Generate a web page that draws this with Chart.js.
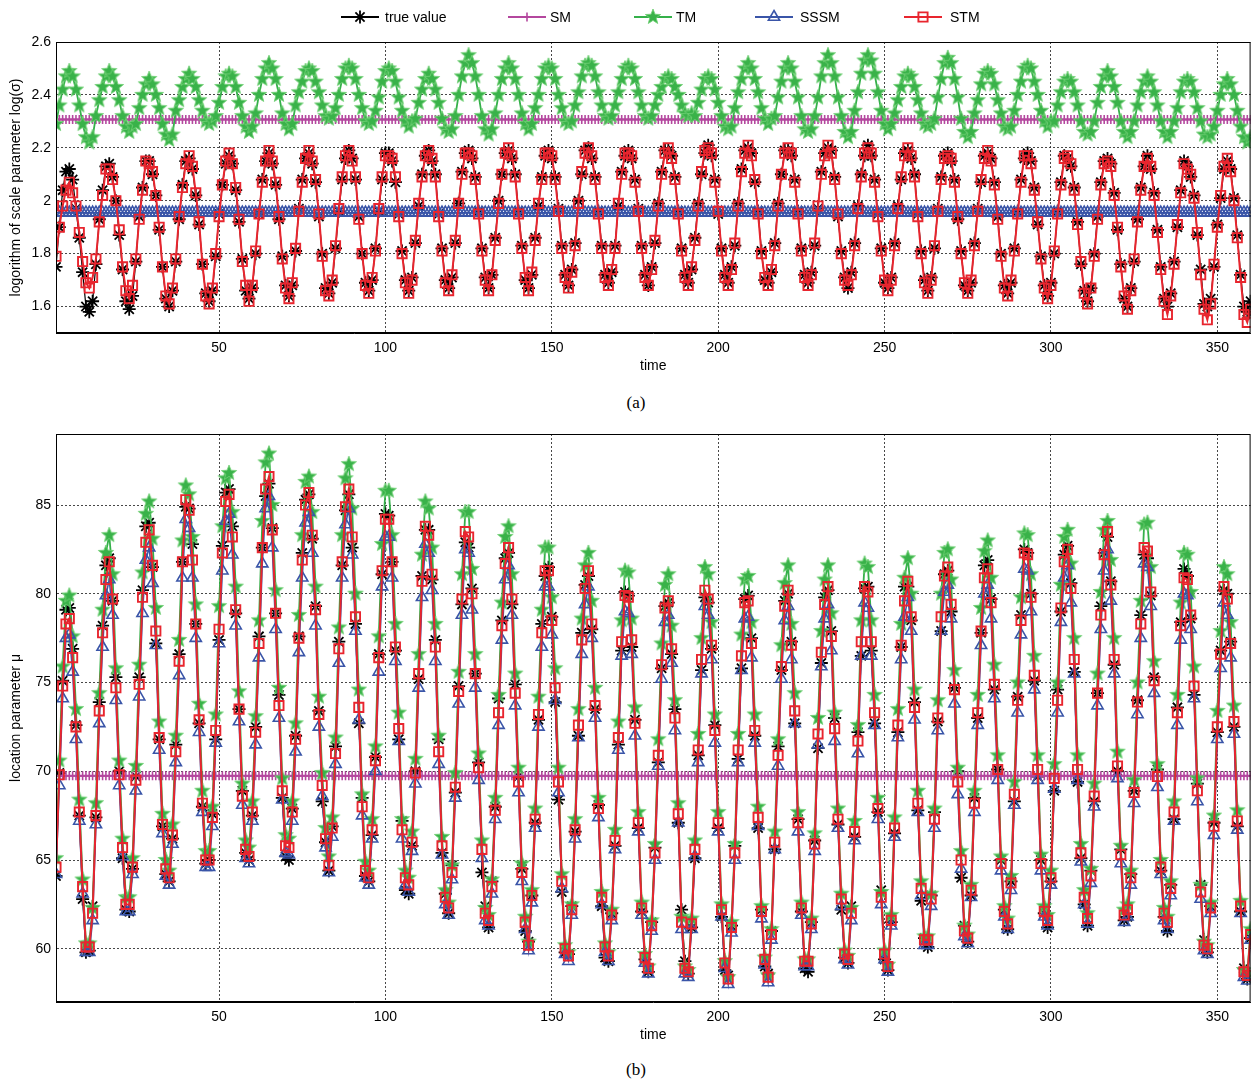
<!DOCTYPE html>
<html>
<head>
<meta charset="utf-8">
<script src="https://cdn.jsdelivr.net/npm/chart.js@4.4.1/dist/chart.umd.min.js"></script>
<style>
  body { margin: 0; background: #fff; width: 1259px; height: 1083px; position: relative; overflow: hidden; }
  canvas { position: absolute; left: 0; }
  #chartA { top: 0; }
  #chartB { top: 388px; }
  .cap { position: absolute; transform: translateX(-50%); font-family: "Liberation Serif", "Times New Roman", serif; font-size: 17px; color: #000; }
</style>
</head>
<body>
<canvas id="chartA" width="1259" height="385"></canvas>
<div class="cap" style="left:636px;top:393px">(a)</div>
<canvas id="chartB" width="1259" height="666"></canvas>
<div class="cap" style="left:636px;top:1060px">(b)</div>
<script>
// x axis: months 1..360
var time = Array.from({length: 360}, function(_, i) { return i + 1; });

var seriesNames = ['true value', 'SM', 'TM', 'SSSM', 'STM'];

// ---- (a) logarithm of scale parameter ----
var aTicksY = [1.6, 1.8, 2, 2.2, 2.4, 2.6];
var aSM = 2.307;     // flat line
var aSSSM = 1.955;   // flat line
var aTrue = [
  1.75,1.90,2.04,2.11,2.12,2.08,1.97,1.86,1.73,1.60,1.58,1.62,
  1.76,1.93,2.04,2.13,2.14,2.09,2.00,1.87,1.74,1.62,1.59,1.64,
  1.77,1.94,2.05,2.15,2.15,2.10,2.02,1.89,1.75,1.63,1.60,1.66,
  1.77,1.93,2.06,2.15,2.16,2.12,2.02,1.91,1.76,1.65,1.62,1.66,
  1.79,1.95,2.06,2.14,2.17,2.14,2.04,1.92,1.78,1.66,1.63,1.67,
  1.80,1.95,2.08,2.15,2.18,2.14,2.06,1.93,1.79,1.68,1.64,1.68,
  1.81,1.97,2.08,2.16,2.18,2.14,2.07,1.94,1.80,1.67,1.65,1.69,
  1.82,1.96,2.08,2.16,2.19,2.16,2.08,1.94,1.80,1.69,1.66,1.70,
  1.82,1.96,2.08,2.18,2.18,2.15,2.07,1.95,1.81,1.70,1.66,1.71,
  1.84,1.98,2.10,2.17,2.19,2.15,2.10,1.95,1.82,1.70,1.67,1.71,
  1.84,1.99,2.11,2.18,2.19,2.16,2.09,1.96,1.82,1.71,1.67,1.72,
  1.86,2.00,2.10,2.18,2.19,2.16,2.10,1.96,1.83,1.70,1.67,1.72,
  1.86,1.98,2.09,2.17,2.19,2.16,2.09,1.97,1.83,1.72,1.68,1.74,
  1.84,2.00,2.10,2.19,2.20,2.16,2.09,1.96,1.83,1.72,1.69,1.73,
  1.83,1.98,2.11,2.17,2.19,2.16,2.08,1.97,1.83,1.72,1.68,1.75,
  1.84,1.99,2.11,2.19,2.19,2.17,2.09,1.96,1.82,1.72,1.69,1.74,
  1.86,1.99,2.10,2.18,2.21,2.17,2.08,1.95,1.82,1.72,1.69,1.75,
  1.83,1.99,2.12,2.19,2.20,2.18,2.07,1.96,1.81,1.70,1.69,1.73,
  1.84,1.99,2.10,2.19,2.19,2.17,2.08,1.96,1.82,1.72,1.69,1.73,
  1.83,1.97,2.11,2.18,2.20,2.19,2.09,1.94,1.81,1.71,1.67,1.73,
  1.84,1.98,2.10,2.17,2.21,2.17,2.08,1.95,1.82,1.69,1.67,1.71,
  1.84,1.98,2.08,2.18,2.19,2.16,2.10,1.95,1.81,1.70,1.66,1.71,
  1.82,1.97,2.09,2.17,2.18,2.15,2.08,1.93,1.81,1.68,1.66,1.69,
  1.84,1.97,2.07,2.17,2.18,2.16,2.07,1.94,1.80,1.68,1.65,1.69,
  1.82,1.96,2.08,2.16,2.18,2.15,2.05,1.91,1.79,1.68,1.64,1.69,
  1.80,1.96,2.07,2.17,2.16,2.13,2.05,1.92,1.76,1.66,1.62,1.67,
  1.80,1.94,2.07,2.15,2.16,2.14,2.03,1.89,1.76,1.63,1.60,1.67,
  1.77,1.93,2.05,2.13,2.17,2.12,2.03,1.89,1.75,1.63,1.60,1.65,
  1.77,1.90,2.04,2.15,2.13,2.09,2.02,1.87,1.74,1.61,1.60,1.63,
  1.75,1.91,2.01,2.12,2.15,2.12,2.01,1.87,1.72,1.60,1.58,1.62
];
var aTM = [
  2.29,2.36,2.42,2.47,2.49,2.47,2.42,2.36,2.29,2.24,2.22,2.24,
  2.32,2.38,2.43,2.47,2.49,2.47,2.43,2.38,2.32,2.28,2.26,2.28,
  2.29,2.35,2.40,2.44,2.46,2.44,2.40,2.35,2.29,2.25,2.23,2.25,
  2.34,2.38,2.43,2.46,2.48,2.46,2.43,2.38,2.34,2.30,2.29,2.30,
  2.32,2.37,2.43,2.47,2.48,2.47,2.43,2.37,2.32,2.28,2.26,2.28,
  2.33,2.40,2.46,2.50,2.52,2.50,2.46,2.40,2.33,2.29,2.27,2.29,
  2.36,2.41,2.45,2.49,2.50,2.49,2.45,2.41,2.36,2.32,2.31,2.32,
  2.35,2.40,2.46,2.50,2.51,2.50,2.46,2.40,2.35,2.30,2.29,2.30,
  2.34,2.39,2.45,2.49,2.50,2.49,2.45,2.39,2.34,2.30,2.28,2.30,
  2.31,2.37,2.42,2.46,2.48,2.46,2.42,2.37,2.31,2.27,2.26,2.27,
  2.32,2.40,2.47,2.52,2.55,2.52,2.47,2.40,2.32,2.27,2.25,2.27,
  2.33,2.40,2.46,2.50,2.52,2.50,2.46,2.40,2.33,2.29,2.27,2.29,
  2.35,2.40,2.46,2.50,2.51,2.50,2.46,2.40,2.35,2.30,2.29,2.30,
  2.36,2.41,2.47,2.51,2.52,2.51,2.47,2.41,2.36,2.32,2.31,2.32,
  2.36,2.41,2.46,2.50,2.51,2.50,2.46,2.41,2.36,2.32,2.31,2.32,
  2.36,2.40,2.43,2.46,2.47,2.46,2.43,2.40,2.36,2.33,2.32,2.33,
  2.32,2.37,2.42,2.46,2.47,2.46,2.42,2.37,2.32,2.28,2.27,2.28,
  2.35,2.41,2.46,2.50,2.52,2.50,2.46,2.41,2.35,2.31,2.29,2.31,
  2.32,2.39,2.45,2.50,2.52,2.50,2.45,2.39,2.32,2.27,2.26,2.27,
  2.32,2.39,2.47,2.52,2.55,2.52,2.47,2.39,2.32,2.26,2.24,2.26,
  2.34,2.41,2.48,2.53,2.55,2.53,2.48,2.41,2.34,2.29,2.27,2.29,
  2.33,2.38,2.43,2.47,2.48,2.47,2.43,2.38,2.33,2.29,2.28,2.29,
  2.31,2.39,2.46,2.52,2.54,2.52,2.46,2.39,2.31,2.26,2.24,2.26,
  2.33,2.38,2.44,2.48,2.49,2.48,2.44,2.38,2.33,2.28,2.27,2.28,
  2.34,2.40,2.45,2.50,2.51,2.50,2.45,2.40,2.34,2.30,2.28,2.30,
  2.30,2.36,2.41,2.45,2.46,2.45,2.41,2.36,2.30,2.26,2.25,2.26,
  2.30,2.37,2.43,2.47,2.49,2.47,2.43,2.37,2.30,2.26,2.24,2.26,
  2.30,2.36,2.41,2.45,2.47,2.45,2.41,2.36,2.30,2.26,2.24,2.26,
  2.30,2.35,2.41,2.45,2.46,2.45,2.41,2.35,2.30,2.25,2.24,2.25,
  2.28,2.34,2.40,2.44,2.46,2.44,2.40,2.34,2.28,2.24,2.22,2.24
];
var aSTM = [
  1.79,1.90,1.98,2.04,2.07,2.03,1.98,1.88,1.77,1.69,1.67,1.71,
  1.78,1.92,2.02,2.12,2.12,2.08,2.00,1.89,1.75,1.66,1.63,1.68,
  1.78,1.93,2.04,2.15,2.14,2.11,2.02,1.90,1.75,1.64,1.61,1.67,
  1.78,1.94,2.05,2.14,2.17,2.13,2.03,1.92,1.76,1.64,1.61,1.67,
  1.80,1.94,2.06,2.15,2.18,2.14,2.05,1.93,1.77,1.68,1.62,1.68,
  1.81,1.95,2.07,2.15,2.19,2.15,2.07,1.94,1.78,1.67,1.63,1.69,
  1.82,1.96,2.07,2.16,2.19,2.15,2.08,1.95,1.79,1.66,1.64,1.70,
  1.83,1.97,2.09,2.17,2.19,2.15,2.09,1.93,1.80,1.68,1.65,1.71,
  1.81,1.97,2.09,2.17,2.17,2.16,2.09,1.94,1.80,1.69,1.65,1.70,
  1.85,1.99,2.09,2.17,2.19,2.16,2.09,1.94,1.81,1.69,1.66,1.72,
  1.85,1.99,2.10,2.18,2.18,2.17,2.08,1.95,1.81,1.70,1.66,1.72,
  1.85,1.99,2.10,2.18,2.20,2.17,2.09,1.95,1.82,1.71,1.66,1.73,
  1.85,1.99,2.08,2.18,2.18,2.17,2.08,1.96,1.82,1.71,1.67,1.73,
  1.83,1.99,2.11,2.18,2.20,2.17,2.08,1.95,1.82,1.71,1.68,1.74,
  1.82,1.99,2.10,2.18,2.18,2.17,2.07,1.96,1.82,1.71,1.68,1.74,
  1.85,1.98,2.10,2.18,2.20,2.16,2.08,1.95,1.81,1.71,1.68,1.75,
  1.85,1.98,2.11,2.19,2.20,2.18,2.07,1.96,1.81,1.71,1.68,1.74,
  1.84,1.98,2.11,2.18,2.21,2.17,2.08,1.95,1.80,1.71,1.68,1.74,
  1.83,1.98,2.10,2.18,2.20,2.18,2.07,1.95,1.81,1.71,1.68,1.72,
  1.84,1.98,2.10,2.17,2.21,2.18,2.08,1.95,1.80,1.70,1.68,1.72,
  1.83,1.97,2.09,2.18,2.20,2.18,2.07,1.94,1.81,1.70,1.66,1.70,
  1.83,1.97,2.09,2.17,2.20,2.17,2.09,1.94,1.80,1.69,1.65,1.70,
  1.83,1.96,2.08,2.16,2.17,2.16,2.07,1.94,1.80,1.69,1.65,1.70,
  1.83,1.96,2.08,2.16,2.19,2.15,2.06,1.93,1.79,1.67,1.64,1.70,
  1.81,1.95,2.07,2.17,2.17,2.14,2.04,1.92,1.78,1.67,1.63,1.68,
  1.81,1.95,2.06,2.16,2.17,2.14,2.04,1.91,1.77,1.65,1.61,1.67,
  1.79,1.93,2.06,2.14,2.15,2.13,2.02,1.90,1.75,1.64,1.59,1.66,
  1.78,1.92,2.04,2.13,2.16,2.13,2.02,1.88,1.74,1.62,1.57,1.64,
  1.76,1.91,2.03,2.14,2.12,2.10,2.01,1.88,1.72,1.59,1.55,1.61,
  1.76,1.90,2.02,2.13,2.16,2.11,2.00,1.86,1.71,1.57,1.54,1.59
];

// ---- (b) location parameter ----
var bTicksY = [60, 65, 70, 75, 80, 85];
var bSM = 69.75;     // flat line
var bTrue = [
  64.1,69.9,75.1,79.1,79.2,76.9,72.6,67.5,62.8,59.8,59.9,62.4,
  67.4,73.9,78.2,81.6,82.0,79.6,75.3,70.0,65.1,62.2,62.1,64.5,
  69.7,75.3,80.2,83.8,84.0,81.5,77.2,71.8,66.9,64.2,63.8,66.2,
  71.5,76.6,81.8,84.9,84.8,82.8,78.3,72.7,68.0,64.8,65.0,67.6,
  71.8,77.4,82.7,85.7,85.9,83.8,78.9,73.5,68.9,65.4,65.0,67.5,
  72.5,77.6,82.6,85.5,86.2,83.7,78.9,74.3,68.5,65.2,65.0,67.9,
  72.0,77.6,82.3,85.3,85.6,83.1,79.3,73.4,68.3,66.0,64.4,66.9,
  71.4,77.3,81.6,84.7,85.6,82.6,78.3,72.7,68.5,64.1,63.8,66.4,
  70.8,76.6,81.1,84.5,84.4,81.8,76.8,71.8,67.2,63.3,63.1,65.8,
  70.0,75.2,81.0,83.6,83.6,80.8,77.4,71.8,65.4,63.1,62.0,64.7,
  68.8,74.8,79.4,82.9,82.6,80.3,75.5,70.5,64.3,62.4,61.2,63.8,
  68.0,74.1,78.5,82.0,82.3,79.4,74.9,69.7,64.5,61.0,60.4,63.0,
  67.1,72.9,78.3,81.0,81.5,78.7,73.9,68.4,63.2,59.8,59.7,62.4,
  66.6,72.0,77.8,80.5,81.0,78.0,73.5,68.1,62.4,59.5,59.3,62.0,
  65.8,71.5,76.8,80.1,79.9,77.0,72.9,66.8,62.1,59.4,58.7,61.5,
  65.7,70.5,75.8,79.3,79.5,76.6,73.5,67.1,62.2,59.3,58.6,61.2,
  65.1,70.9,75.7,79.8,79.5,76.9,72.6,66.8,61.8,58.8,58.5,61.3,
  65.8,70.7,75.8,79.7,79.9,77.5,72.0,66.8,62.2,59.0,58.6,61.0,
  65.6,71.4,75.7,79.6,80.0,77.3,72.7,67.3,62.1,58.9,58.7,61.5,
  66.1,71.3,76.1,79.8,80.2,77.9,73.0,67.0,62.2,59.5,59.2,62.4,
  66.3,72.2,76.5,80.3,80.4,76.8,72.7,67.7,63.3,59.4,58.8,61.5,
  66.5,72.2,77.0,80.4,80.4,78.5,73.9,67.8,62.7,60.6,60.1,63.0,
  67.7,72.8,77.9,81.1,81.3,79.0,74.7,70.0,64.0,61.3,60.4,63.0,
  68.5,73.0,77.8,81.6,81.9,79.7,74.6,70.1,65.0,62.2,61.1,63.8,
  68.3,74.2,78.8,82.5,82.3,80.0,75.1,69.7,65.0,62.0,61.2,63.8,
  68.9,74.6,79.0,82.2,82.7,80.6,75.6,69.4,65.1,62.5,61.3,64.4,
  68.3,74.4,79.3,82.3,83.2,80.7,76.0,70.0,65.6,61.6,61.8,64.2,
  68.9,74.0,78.8,82.2,82.0,79.9,75.3,70.1,64.4,61.8,61.0,63.6,
  67.3,73.6,78.4,81.4,81.0,78.6,74.3,69.3,63.6,60.5,59.8,62.4,
  67.1,72.2,76.8,80.2,80.0,77.3,72.5,66.9,62.1,58.9,58.3,60.6
];
var bTM = [
  65.1,70.6,75.9,79.6,79.9,77.6,73.5,68.4,63.9,60.3,60.3,62.3,
  68.2,74.4,79.1,82.3,83.3,81.1,75.8,70.6,66.2,62.9,62.9,65.1,
  70.3,76.0,81.2,84.5,85.2,83.1,79.2,72.8,67.6,65.0,64.4,67.0,
  72.0,77.4,83.0,86.1,85.6,83.2,79.4,73.8,68.9,65.5,65.5,68.0,
  73.2,79.3,83.8,86.5,86.8,84.6,80.4,74.5,69.3,66.1,65.7,68.3,
  73.1,78.5,84.1,87.4,87.9,85.0,80.2,74.7,69.6,66.4,66.2,68.3,
  72.7,78.8,83.3,86.3,86.6,84.6,80.4,74.2,69.9,66.8,65.2,67.4,
  71.9,78.1,83.3,86.5,87.3,84.8,80.0,74.6,68.7,64.9,64.4,67.3,
  71.4,77.6,82.8,85.8,85.8,83.3,78.3,73.3,67.3,64.4,64.0,66.6,
  70.7,76.6,82.2,85.2,84.8,82.6,78.3,72.0,66.3,63.3,62.6,64.7,
  69.9,75.6,81.1,84.6,84.6,81.4,76.6,71.0,66.1,62.3,61.9,63.9,
  68.5,74.3,79.5,83.2,83.8,81.1,75.5,70.2,64.8,61.8,60.4,63.3,
  67.9,74.2,79.1,82.6,82.6,79.8,75.8,70.2,64.2,60.2,59.8,62.5,
  67.3,73.5,78.6,81.6,82.3,79.6,74.7,68.5,63.2,60.3,59.8,62.2,
  66.7,72.8,78.5,81.3,81.2,78.6,73.6,67.7,62.6,59.7,59.0,61.6,
  65.9,71.8,77.2,80.5,81.1,78.2,74.0,68.2,61.8,59.0,58.8,61.7,
  66.1,72.1,77.5,81.5,81.1,78.4,73.2,67.7,62.5,59.3,58.4,61.5,
  65.9,72.1,77.7,80.8,81.0,78.4,73.2,68.0,62.4,59.5,58.5,61.1,
  66.6,71.8,77.1,80.6,81.6,78.3,74.4,67.7,62.6,59.4,59.4,61.7,
  66.5,73.0,77.9,80.8,81.6,78.9,73.3,67.9,63.1,59.9,59.6,62.3,
  67.2,72.6,78.5,81.7,81.5,78.5,74.3,68.5,63.2,59.9,59.1,61.9,
  67.4,73.5,78.3,80.9,82.0,80.0,74.6,68.9,63.8,60.7,60.7,63.1,
  67.9,74.0,80.0,82.3,82.5,80.8,75.7,70.2,65.5,61.3,60.8,63.6,
  68.9,74.3,79.2,82.4,83.0,80.9,76.0,70.9,65.2,62.4,61.7,64.1,
  69.4,75.0,79.8,83.4,83.3,81.1,76.5,70.9,65.3,62.4,61.9,64.4,
  70.4,75.0,80.5,83.2,83.6,81.7,77.5,70.9,65.9,63.3,62.0,64.5,
  69.3,75.5,80.1,83.6,84.1,81.9,77.5,71.1,65.8,62.2,62.5,64.4,
  69.5,75.0,79.6,83.9,84.0,81.5,76.2,70.4,65.0,62.3,61.8,63.8,
  68.3,74.3,79.5,82.3,82.2,80.1,75.9,69.6,63.6,60.4,60.2,62.6,
  67.5,73.4,77.9,81.5,81.1,78.4,73.7,67.8,62.7,58.8,58.6,61.1
];
var bSSSM = [
  64.2,69.2,74.1,77.5,77.7,75.6,71.8,67.2,63.1,59.8,59.8,61.6,
  67.0,72.7,77.0,79.9,80.8,78.8,74.0,69.2,65.2,62.1,62.1,64.2,
  68.9,74.2,78.9,81.9,82.6,80.6,77.1,71.2,66.5,64.1,63.6,65.9,
  70.5,75.4,80.9,84.2,83.7,80.9,77.5,72.2,67.7,64.6,64.6,66.9,
  71.6,77.2,81.3,84.1,84.5,82.2,78.2,72.8,68.1,65.1,64.8,67.2,
  71.5,76.4,81.7,84.8,85.5,82.6,78.0,73.0,68.4,65.4,65.3,67.2,
  71.1,76.7,80.9,84.0,84.6,82.3,78.2,72.5,68.6,65.7,64.3,66.3,
  70.4,76.1,80.9,83.9,84.8,82.2,77.9,72.9,67.5,64.0,63.6,66.2,
  70.0,75.6,80.4,83.2,83.2,80.9,76.2,71.7,66.2,63.6,63.2,65.5,
  69.3,74.7,79.8,82.8,82.3,80.2,76.2,70.4,65.3,62.5,61.9,63.9,
  68.5,73.8,78.8,82.5,82.3,79.1,74.7,69.5,65.1,61.6,61.3,63.1,
  67.3,72.6,77.4,80.8,81.6,78.8,73.7,68.8,63.8,61.1,59.9,62.6,
  66.8,72.5,77.0,80.4,80.4,77.7,74.0,68.8,63.4,59.7,59.3,61.9,
  66.2,71.9,76.6,79.4,80.4,77.5,73.0,67.4,62.5,59.8,59.3,61.6,
  65.6,71.2,76.5,79.0,78.9,76.6,72.0,66.6,61.9,59.2,58.6,61.0,
  65.0,70.3,75.2,78.4,78.8,76.1,72.3,67.1,61.1,58.6,58.4,61.1,
  65.2,70.5,75.5,79.3,78.8,76.3,71.6,66.6,61.8,58.9,58.0,60.9,
  65.0,70.5,75.7,78.6,78.7,76.4,71.6,66.9,61.7,59.1,58.1,60.5,
  65.6,70.3,75.2,78.5,79.3,76.3,72.7,66.6,61.9,59.0,59.0,61.1,
  65.5,71.5,75.9,78.6,79.4,76.8,71.7,66.8,62.4,59.4,59.1,61.6,
  66.1,71.0,76.5,79.5,79.2,76.5,72.6,67.3,62.5,59.4,58.7,61.3,
  66.3,71.9,76.3,78.7,79.8,77.9,72.9,67.7,63.0,60.2,60.2,62.4,
  66.8,72.3,77.9,80.1,80.5,78.6,73.8,68.7,64.5,60.7,60.3,62.9,
  67.7,72.6,77.1,80.0,80.5,78.6,74.1,69.5,64.4,61.8,61.1,63.3,
  68.1,73.3,77.7,81.4,81.3,79.0,74.6,69.5,64.4,61.8,61.3,63.6,
  69.0,73.3,78.4,80.9,81.6,79.5,75.5,69.5,64.9,62.5,61.4,63.7,
  68.0,73.7,78.0,81.3,82.5,79.6,75.5,69.6,64.8,61.5,61.8,63.6,
  68.2,73.2,77.5,81.7,81.5,79.3,74.4,69.1,64.2,61.6,61.1,63.0,
  67.2,72.6,77.4,80.0,79.9,78.0,74.1,68.3,62.8,59.9,59.7,62.0,
  66.4,71.8,75.8,79.5,78.8,76.4,72.1,66.7,62.0,58.4,58.2,60.5
];
var bSTM = [
  64.6,69.8,74.8,78.3,78.6,76.4,72.5,67.7,63.5,60.1,60.1,62.0,
  67.5,73.4,77.8,80.8,81.8,79.7,74.7,69.8,65.7,62.5,62.5,64.6,
  69.5,74.9,79.8,82.9,83.6,81.6,77.9,71.9,67.0,64.5,64.0,66.4,
  71.1,76.2,81.8,85.3,84.7,81.9,78.3,72.9,68.2,65.0,65.0,67.4,
  72.3,78.0,82.3,85.2,85.6,83.2,79.1,73.5,68.6,65.6,65.2,67.7,
  72.2,77.2,82.6,85.9,86.6,83.6,78.9,73.7,68.9,65.8,65.7,67.7,
  71.8,77.5,81.9,85.0,85.7,83.3,79.1,73.2,69.2,66.2,64.7,66.8,
  71.0,76.9,81.8,84.9,85.9,83.2,78.7,73.6,68.0,64.4,64.0,66.7,
  70.6,76.4,81.3,84.2,84.2,81.8,77.0,72.4,66.7,64.0,63.6,66.0,
  69.9,75.5,80.7,83.8,83.3,81.1,77.0,71.1,65.8,62.9,62.3,64.3,
  69.1,74.5,79.7,83.5,83.2,80.0,75.5,70.2,65.6,62.0,61.6,63.5,
  67.8,73.3,78.2,81.7,82.6,79.7,74.4,69.4,64.3,61.5,60.2,63.0,
  67.3,73.2,77.8,81.3,81.3,78.5,74.7,69.4,63.8,60.0,59.6,62.2,
  66.7,72.6,77.4,80.3,81.3,78.3,73.7,67.9,62.9,60.1,59.6,61.9,
  66.1,71.9,77.3,79.9,79.8,77.4,72.7,67.1,62.3,59.5,58.9,61.3,
  65.4,70.9,76.0,79.2,79.6,76.9,73.0,67.6,61.5,58.9,58.7,61.4,
  65.6,71.2,76.3,80.2,79.7,77.1,72.3,67.1,62.2,59.2,58.3,61.2,
  65.4,71.2,76.5,79.5,79.6,77.2,72.3,67.4,62.1,59.4,58.4,60.8,
  66.0,70.9,75.9,79.3,80.2,77.1,73.4,67.1,62.3,59.3,59.3,61.4,
  65.9,72.1,76.7,79.4,80.4,77.6,72.4,67.3,62.8,59.7,59.4,62.0,
  66.6,71.7,77.3,80.4,80.1,77.3,73.3,67.9,62.9,59.7,59.0,61.6,
  66.8,72.6,77.1,79.6,80.7,78.7,73.6,68.2,63.4,60.5,60.5,62.8,
  67.3,73.0,78.7,81.0,81.5,79.4,74.6,69.4,65.0,61.0,60.6,63.3,
  68.2,73.3,77.9,80.9,81.4,79.5,74.9,70.1,64.8,62.1,61.4,63.7,
  68.7,74.0,78.5,82.3,82.2,79.8,75.4,70.1,64.8,62.1,61.6,64.0,
  69.6,74.0,79.2,81.8,82.5,80.3,76.3,70.1,65.4,62.9,61.7,64.1,
  68.6,74.4,78.8,82.2,83.5,80.5,76.3,70.3,65.3,61.9,62.2,64.0,
  68.8,73.9,78.3,82.6,82.4,80.1,75.1,69.7,64.6,62.0,61.5,63.4,
  67.7,73.3,78.2,80.9,80.8,78.8,74.8,68.9,63.2,60.2,60.0,62.3,
  66.9,72.5,76.6,80.4,79.7,77.2,72.8,67.2,62.4,58.7,58.5,60.8
];
var ticksX = [50, 100, 150, 200, 250, 300, 350];

Chart.defaults.font.family = '"Liberation Sans", Arial, Helvetica, sans-serif';
Chart.defaults.font.size = 14;
Chart.defaults.color = '#000';

// filled five-pointed star for TM (not a built-in pointStyle)
function makeStar(fill, edge) {
    var c = document.createElement('canvas');
    c.width = 18; c.height = 18;
    var g = c.getContext('2d');
    g.beginPath();
    for (var k = 0; k < 10; k++) {
        var r = k % 2 ? 3.4 : 8;
        var a = -Math.PI / 2 + k * Math.PI / 5;
        g.lineTo(9 + r * Math.cos(a), 9 + r * Math.sin(a));
    }
    g.closePath();
    g.fillStyle = fill;
    g.fill();
    g.strokeStyle = edge;
    g.lineWidth = 0.9;
    g.stroke();
    return c;
}
var starImg = makeStar('#39b249', '#72d076');

// per-series look: line colour/width and marker
var styles = [
    {color: '#000000', width: 1.2, point: 'star',     radius: 6.5, pw: 1.8, order: 5},
    {color: '#b4479e', width: 2,   point: 'cross',    radius: 4.5, pw: 1.6, order: 4},
    {color: '#35b04a', width: 1.8, point: starImg,    radius: 6,   pw: 0,   order: 3},
    {color: '#3a55a8', width: 1.5, point: 'triangle', radius: 6.5, pw: 1.6, order: 2},
    {color: '#e8252e', width: 2,   point: 'rect',     radius: 6.5, pw: 1.9, order: 1}
];

function makeDatasets(values) {
    return values.map(function(v, i) {
        var s = styles[i];
        return {
            label: seriesNames[i],
            data: v,
            borderColor: s.color,
            borderWidth: s.width,
            pointStyle: s.point,
            pointRadius: s.radius,
            pointBorderWidth: s.pw,
            pointBorderColor: s.color,
            pointBackgroundColor: 'rgba(0,0,0,0)',
            order: s.order,
            clip: 0,
            tension: 0
        };
    });
}

// box round the plot area (MATLAB style axes)
var framePlugin = {
    id: 'frame',
    afterDraw: function(chart) {
        var a = chart.chartArea, ctx = chart.ctx;
        ctx.save();
        ctx.strokeStyle = '#000';
        ctx.lineWidth = 1;
        ctx.strokeRect(a.left + 0.5, a.top + 0.5, a.right - a.left - 1, a.bottom - a.top - 1);
        ctx.restore();
    }
};

// legend row on top: line + marker + name
var legendPos = [
    {x1: 341, x2: 379, tx: 385},
    {x1: 508, x2: 546, tx: 550},
    {x1: 634, x2: 672, tx: 676},
    {x1: 755, x2: 793, tx: 800},
    {x1: 904, x2: 942, tx: 950}
];
var legendPlugin = {
    id: 'lineLegend',
    afterDraw: function(chart) {
        var ctx = chart.ctx, y = 17;
        ctx.save();
        legendPos.forEach(function(p, i) {
            var s = styles[i];
            ctx.strokeStyle = s.color;
            ctx.lineWidth = 2;
            ctx.beginPath();
            ctx.moveTo(p.x1, y);
            ctx.lineTo(p.x2, y);
            ctx.stroke();
            ctx.fillStyle = 'rgba(0,0,0,0)';
            ctx.lineWidth = s.pw || 1;
            Chart.helpers.drawPoint(ctx, {pointStyle: s.point, radius: s.radius, rotation: 0, borderWidth: s.pw}, (p.x1 + p.x2) / 2, y);
            ctx.fillStyle = '#000';
            ctx.font = '14px "Liberation Sans", Arial, sans-serif';
            ctx.textBaseline = 'middle';
            ctx.textAlign = 'left';
            ctx.fillText(seriesNames[i], p.tx, y + 1);
        });
        ctx.restore();
    }
};

function tickFmt(v) { return String(+v.toFixed(2)); }

function makeOptions(ymin, ymax, yticks, ytitle, padTop) {
    return {
        responsive: false,
        animation: false,
        events: [],
        layout: {padding: {top: padTop, right: 7, left: 0, bottom: 0}},
        plugins: {legend: {display: false}, tooltip: {enabled: false}},
        scales: {
            x: {
                type: 'linear', min: 1, max: 360,
                afterBuildTicks: function(s) { s.ticks = ticksX.map(function(v) { return {value: v}; }); },
                afterFit: function(s) { s.height = 52; },
                grid: {color: '#333', lineWidth: 0.9, drawTicks: false},
                border: {color: '#000', width: 1, dash: [2, 2]},
                ticks: {padding: 7, autoSkip: false, maxRotation: 0, callback: tickFmt},
                title: {display: true, text: 'time', font: {size: 14}, padding: {top: 0, bottom: 10}}
            },
            y: {
                min: ymin, max: ymax,
                afterBuildTicks: function(s) { s.ticks = yticks.map(function(v) { return {value: v}; }); },
                afterFit: function(s) { s.width = 56; },
                grid: {color: '#333', lineWidth: 0.9, drawTicks: false},
                border: {color: '#000', width: 1, dash: [2, 2]},
                ticks: {padding: 5, callback: tickFmt},
                title: {display: true, text: ytitle, font: {size: 14}, padding: {top: 8, bottom: 0}}
            }
        }
    };
}

new Chart(document.getElementById('chartA'), {
    type: 'line',
    data: {
        labels: time,
        datasets: makeDatasets([aTrue, time.map(function() { return aSM; }), aTM, time.map(function() { return aSSSM; }), aSTM])
    },
    options: makeOptions(1.5, 2.6, aTicksY, 'logorithm of scale parameter log(\u03c3)', 42),
    plugins: [framePlugin, legendPlugin]
});

new Chart(document.getElementById('chartB'), {
    type: 'line',
    data: {
        labels: time,
        datasets: makeDatasets([bTrue, time.map(function() { return bSM; }), bTM, bSSSM, bSTM])
    },
    options: makeOptions(57, 89, bTicksY, 'location parameter \u03bc', 46),
    plugins: [framePlugin]
});
</script>
</body>
</html>
